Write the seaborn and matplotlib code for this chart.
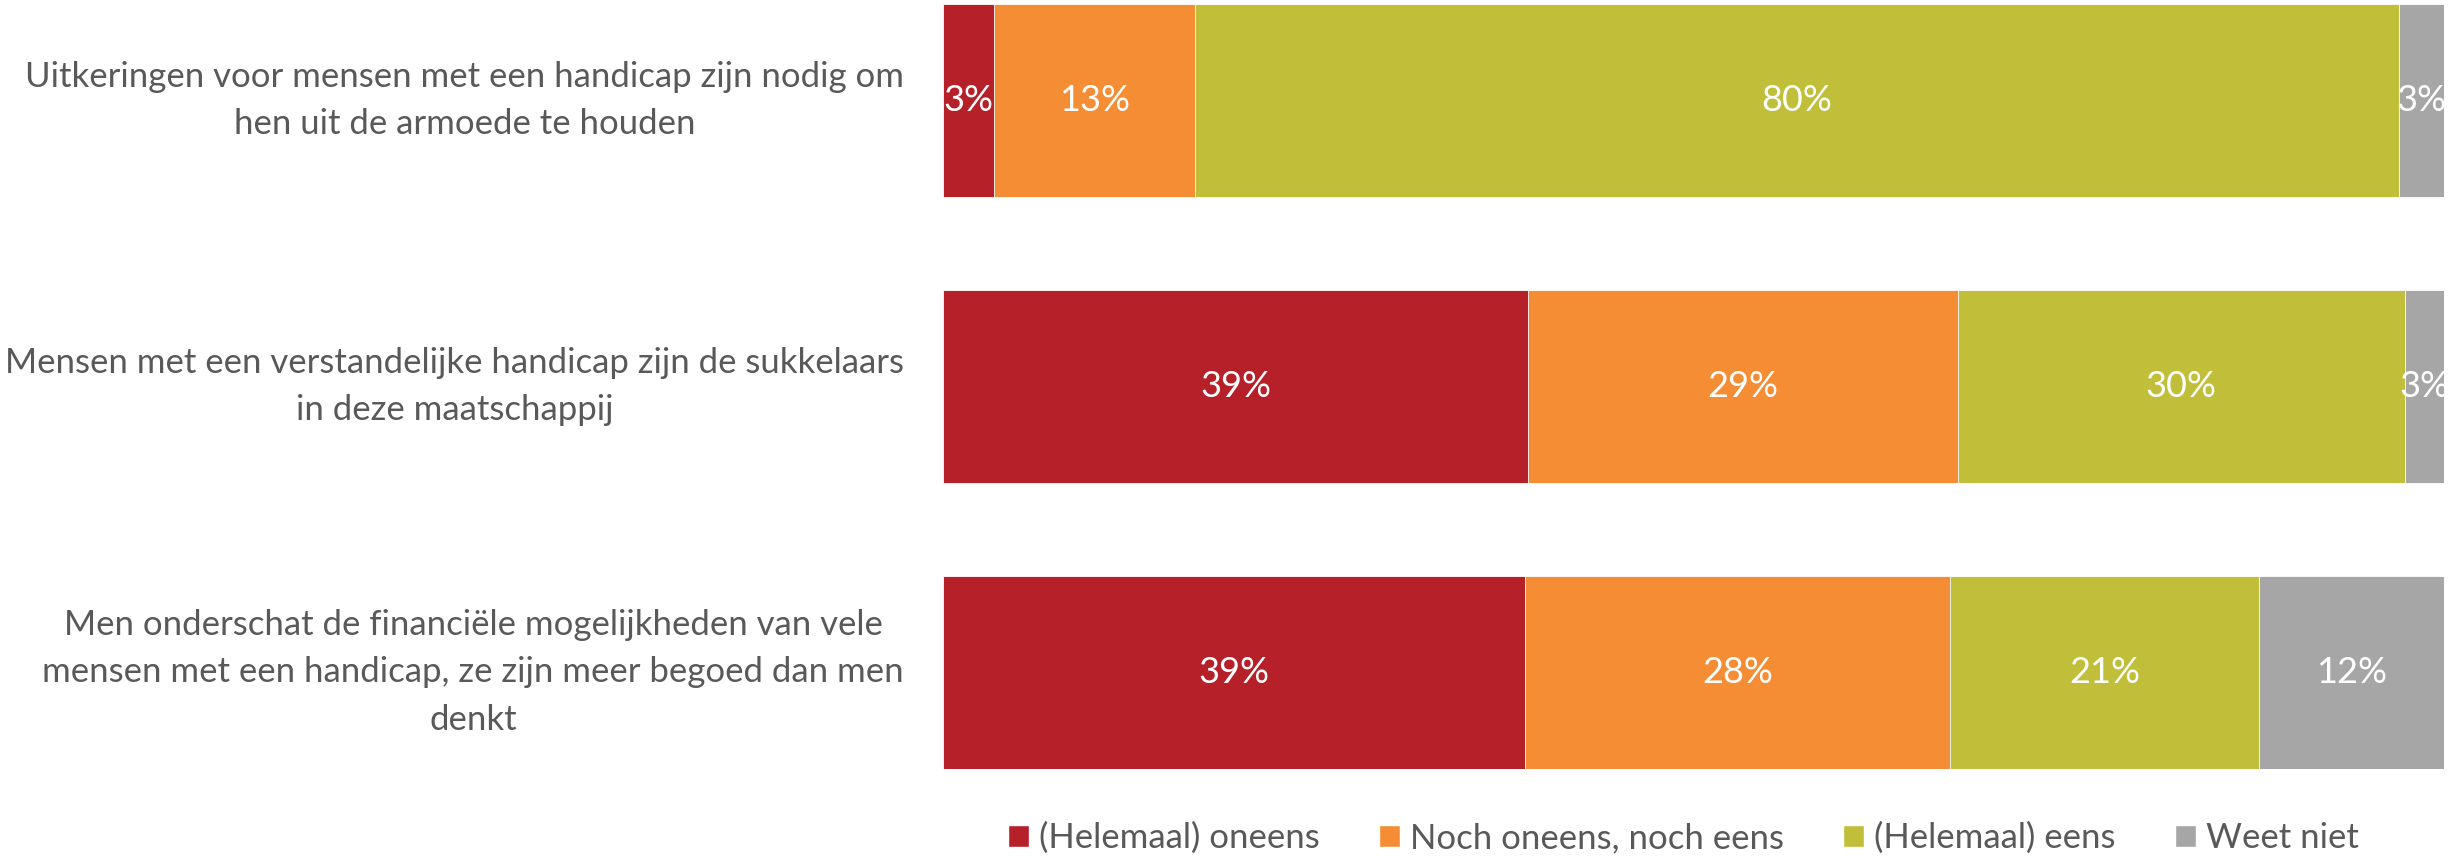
import numpy as np
import pandas as pd
import seaborn as sns
import matplotlib.pyplot as plt
from matplotlib.patches import Patch

sns.set_theme(style='white')
plt.rcParams['font.family'] = ['Lato', 'DejaVu Sans']

statements = [
    'Uitkeringen voor mensen met een handicap zijn nodig om\nhen uit de armoede te houden',
    'Mensen met een verstandelijke handicap zijn de sukkelaars\nin deze maatschappij',
    'Men onderschat de financiële mogelijkheden van vele\nmensen met een handicap, ze zijn meer begoed dan men\ndenkt',
]
answers = ['(Helemaal) oneens', 'Noch oneens, noch eens', '(Helemaal) eens', 'Weet niet']
oneens = [3.4, 39.0, 38.8]
neutraal = [13.4, 28.6, 28.3]
eens = [80.2, 29.8, 20.6]
weet_niet = [3.0, 2.6, 12.3]
colors = ['#B52029', '#F58D35', '#C1BF3A', '#A6A6A6']

df = pd.DataFrame({'statement': statements, answers[0]: oneens, answers[1]: neutraal,
                   answers[2]: eens, answers[3]: weet_niet})
cum = df[answers].cumsum(axis=1)

fig = plt.figure(figsize=(24.61, 8.6), dpi=100)
ax = fig.add_axes([943 / 2461, 1 - 769 / 860, 1501 / 2461, 765 / 860])

# stacked bars: draw cumulative totals back to front
for ans, col in reversed(list(zip(answers, colors))):
    sns.barplot(x=cum[ans], y=df['statement'], orient='h', color=col, width=0.675,
                saturation=1, edgecolor='white', linewidth=0.6, ax=ax)

for i in range(len(statements)):
    left = 0
    for ans in answers:
        v = df.loc[i, ans]
        ax.text(left + v / 2, i, f'{v:.0f}%', ha='center', va='center',
                color='white', fontsize=26)
        left += v

ax.set_xlim(0, 100)
ax.set_ylim(2.3375, -0.3375)
ax.set_xlabel('')
ax.set_ylabel('')
ax.set_xticks([])
ax.tick_params(axis='y', length=0, pad=28, labelsize=25, labelcolor='#595959')
for lab in ax.get_yticklabels():
    lab.set_multialignment('center')
    lab.set_linespacing(1.6)
    lab.set_va('center')
sns.despine(ax=ax, left=True, bottom=True)

handles = [Patch(facecolor=c, label=a) for a, c in zip(answers, colors)]
fig.legend(handles=handles, loc='center', bbox_to_anchor=(0.684, 0.026), ncol=4,
           frameon=False, fontsize=25, labelcolor='#595959', handlelength=0.6,
           handleheight=0.6, handletextpad=0.3, columnspacing=1.7)

fig.savefig('out.png', dpi=100)
